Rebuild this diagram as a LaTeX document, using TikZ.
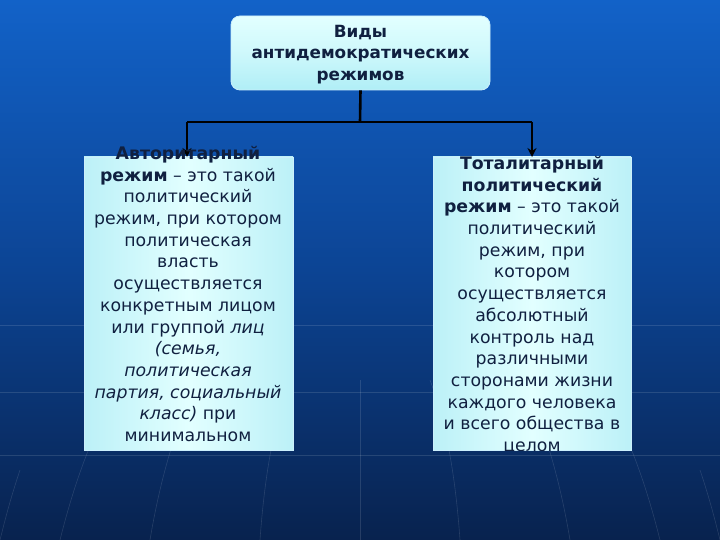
\documentclass[tikz,border=0pt]{standalone}
\usepackage{fontspec}
\setmainfont{DejaVu Sans}
\usetikzlibrary{arrows.meta,shadings}
\definecolor{bgtop}{RGB}{18,98,200}
\definecolor{bgmid}{RGB}{12,68,148}
\definecolor{bgbot}{RGB}{8,34,78}
\definecolor{boxlight}{RGB}{226,255,255}
\definecolor{boxcyan}{RGB}{176,238,246}
\definecolor{txt}{RGB}{16,32,64}
\tikzset{
  panel/.style={draw=white!80!cyan, line width=0.8pt, inner sep=0pt,
    left color=boxcyan!85!white, right color=boxcyan!85!white, middle color=boxlight},
  headbox/.style={panel, rounded corners=9pt, top color=boxlight, bottom color=boxcyan,
    middle color=boxlight!60!boxcyan},
  body/.style={text=txt, align=center, inner sep=0pt, font=\fontsize{17.3}{21.7}\selectfont},
  link/.style={line width=2.6pt, black},
  tip/.style={-{Stealth[length=9pt,width=9pt]}},
  grid/.style={white, opacity=0.12, line width=0.6pt}
}
\begin{document}
\begin{tikzpicture}[x=1pt,y=-1pt]
  \useasboundingbox (0,0) rectangle (720,540);
  % background
  \shade[top color=bgtop, bottom color=bgbot, middle color=bgmid] (0,0) rectangle (720,540);
  % faint globe grid
  \draw[grid] (0,325) -- (720,325);
  \draw[grid] (0,392) -- (720,392);
  \draw[grid] (0,455) -- (720,455);
  \draw[grid] (60,540) .. controls (90,420) and (130,360) .. (170,330);
  \draw[grid] (150,540) .. controls (165,450) and (190,390) .. (215,340);
  \draw[grid] (260,540) .. controls (265,470) and (275,420) .. (290,380);
  \draw[grid] (360,540) -- (360,380);
  \draw[grid] (460,540) .. controls (455,470) and (445,420) .. (430,380);
  \draw[grid] (570,540) .. controls (555,450) and (530,390) .. (505,340);
  \draw[grid] (660,540) .. controls (630,420) and (590,360) .. (550,330);
  \draw[grid] (20,470) .. controls (10,500) and (5,520) .. (0,540);
  \draw[grid] (700,470) .. controls (710,500) and (715,520) .. (720,540);

  % top box
  \node[headbox, minimum width=259pt, minimum height=74pt] (head) at (360.5,53) {};
  \node[body, font=\bfseries\fontsize{16.8}{21.5}\selectfont] (headtxt) at (360.5,54.5)
    {Виды\\антидемократических\\режимов};

  % panels
  \node[panel, minimum width=209pt, minimum height=293pt] (left) at (188.5,303.5) {};
  \node[panel, minimum width=198pt, minimum height=293pt] (right) at (532,303.5) {};

  % connectors
  \coordinate (fork) at (360,122);
  \draw[link] (head.south) -- (fork);
  \draw[link] (187,122) -- (532,122);
  \draw[link, tip] (187,122) -- (187,157);
  \draw[link, tip] (532,122) -- (532,157);

  % left text
  \node[body, anchor=north] (lefttxt) at (188,146)
    {\textbf{Авторитарный}\\
     \textbf{режим} – это такой\\
     политический\\
     режим, при котором\\
     политическая\\
     власть\\
     осуществляется\\
     конкретным лицом\\
     или группой \textit{лиц}\\
     \textit{(семья,}\\
     \textit{политическая}\\
     \textit{партия, социальный}\\
     \textit{класс)} при\\
     минимальном};

  % right text
  \begin{scope}
    \clip (0,0) rectangle (720,450);
    \node[body, anchor=north] (righttxt) at (532,156)
      {\textbf{Тоталитарный}\\
       \textbf{политический}\\
       \textbf{режим} – это такой\\
       политический\\
       режим, при\\
       котором\\
       осуществляется\\
       абсолютный\\
       контроль над\\
       различными\\
       сторонами жизни\\
       каждого человека\\
       и всего общества в\\
       целом};
  \end{scope}
\end{tikzpicture}
\end{document}
